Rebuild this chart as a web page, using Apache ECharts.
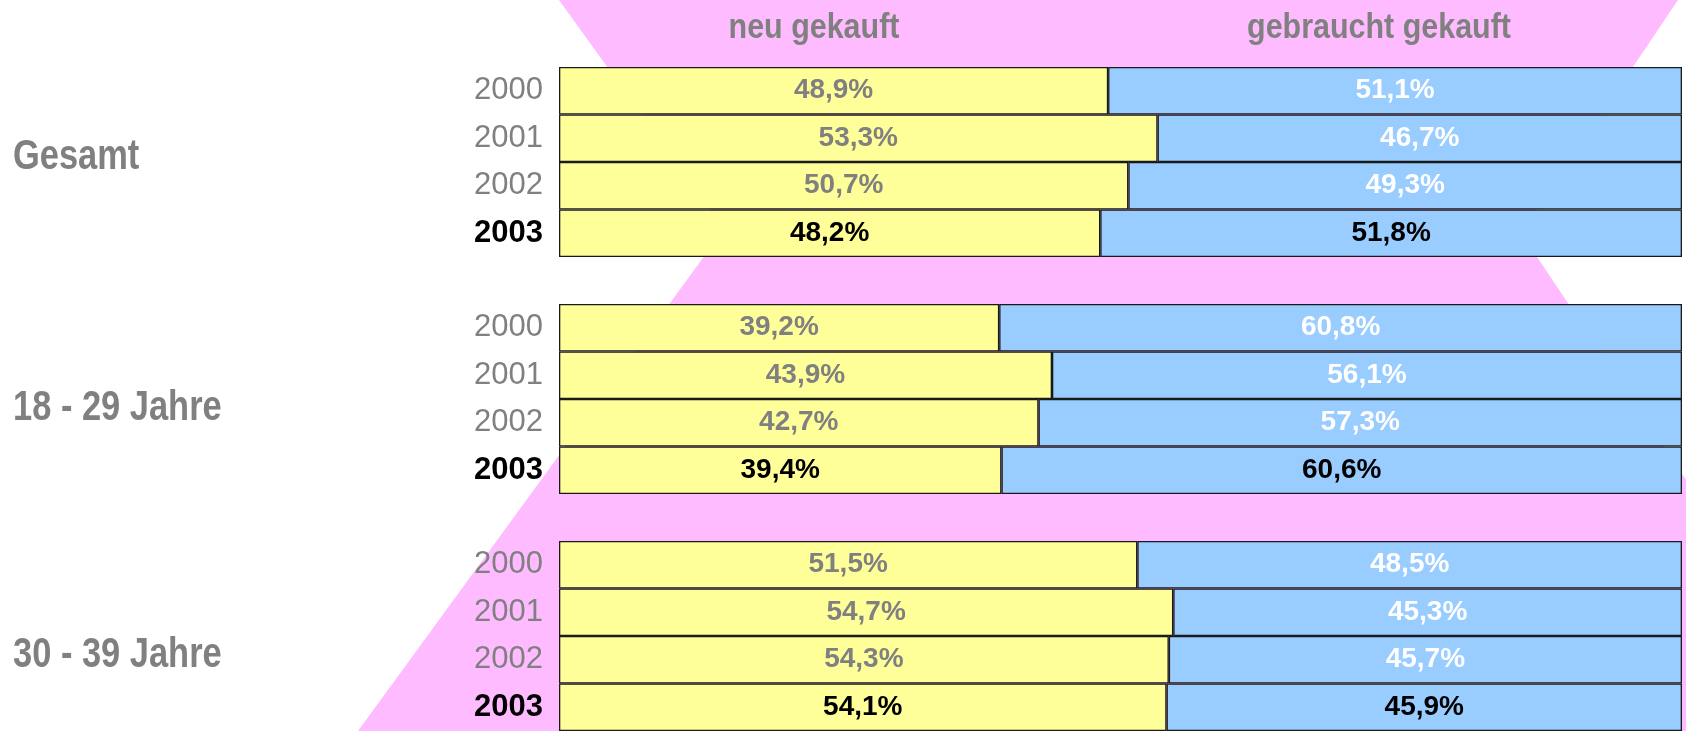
<!DOCTYPE html>
<html>
<head>
<meta charset="utf-8">
<script src="https://cdn.jsdelivr.net/npm/echarts@6/dist/echarts.min.js"></script>
<style>
  html, body { margin: 0; padding: 0; background: #fff; }
  #chart { width: 1686px; height: 731px; }
</style>
</head>
<body>
<div id="chart"></div>
<script>
// Jahre und Gruppen
const years = ['2000', '2001', '2002', '2003'];
const latestYear = '2003';
const groupNames = ['Gesamt', '18 - 29 Jahre', '30 - 39 Jahre'];
const seriesNames = ['neu gekauft', 'gebraucht gekauft'];

// Anteile in Prozent
const neuGesamt = [48.9, 53.3, 50.7, 48.2];
const gebrauchtGesamt = [51.1, 46.7, 49.3, 51.8];
const neu1829 = [39.2, 43.9, 42.7, 39.4];
const gebraucht1829 = [60.8, 56.1, 57.3, 60.6];
const neu3039 = [51.5, 54.7, 54.3, 54.1];
const gebraucht3039 = [48.5, 45.3, 45.7, 45.9];

const neuByGroup = [neuGesamt, neu1829, neu3039];
const gebrauchtByGroup = [gebrauchtGesamt, gebraucht1829, gebraucht3039];

const FONT = '"Liberation Sans", Arial, sans-serif';
const grey = '#808080';

const gridTops = [67, 304, 541];
const labelY = [157, 408, 655];

const grids = [], xAxes = [], yAxes = [], series = [];

const fmt = v => v.toFixed(1).replace('.', ',') + '%';

groupNames.forEach((g, i) => {
  grids.push({ left: 559, right: 4, top: gridTops[i], height: 190 });
  xAxes.push({ type: 'value', gridIndex: i, min: 0, max: 100, show: false });
  yAxes.push({
    type: 'category',
    gridIndex: i,
    inverse: true,
    data: years.map(y => y === latestYear
      ? { value: y, textStyle: { fontWeight: 'bold', color: '#000' } }
      : y),
    axisLine: { show: false },
    axisTick: { show: false },
    splitLine: { show: false },
    axisLabel: { margin: 16, fontSize: 31, color: grey, fontFamily: FONT }
  });

  const mk = (vals, color, labelColor, name) => ({
    name: name,
    type: 'bar',
    stack: 'g' + i,
    xAxisIndex: i,
    yAxisIndex: i,
    barWidth: '100%',
    itemStyle: { color: color, borderColor: '#1a1a1a', borderWidth: 1.3 },
    label: {
      show: true,
      position: 'inside',
      fontSize: 28,
      fontWeight: 'bold',
      fontFamily: FONT,
      color: labelColor,
      formatter: p => fmt(p.value)
    },
    data: vals.map((v, k) => years[k] === latestYear
      ? { value: v, label: { color: '#000' } }
      : v),
    animation: false
  });

  series.push(mk(neuByGroup[i], '#FFFF99', grey, seriesNames[0]));
  series.push(mk(gebrauchtByGroup[i], '#99CCFF', '#fff', seriesNames[1]));
});

const textEl = (text, x, y, size, align, sx) => ({
  type: 'text',
  x: x,
  y: y,
  scaleX: sx,
  z: 5,
  style: {
    text: text,
    font: 'bold ' + size + 'px ' + FONT,
    fill: grey,
    align: align,
    verticalAlign: 'middle',
    textAlign: align,
    textVerticalAlign: 'middle'
  }
});

const graphics = [
  {
    type: 'polygon',
    z: -10,
    shape: { points: [[559, 0], [1678, 0], [1521, 233], [1854, 731], [358, 731], [724, 229]] },
    style: { fill: '#FFBBFF' }
  },
  textEl(seriesNames[0], 814, 28, 35, 'center', 0.87),
  textEl(seriesNames[1], 1379, 28, 35, 'center', 0.87)
];
groupNames.forEach((g, i) => graphics.push(textEl(g, 13, labelY[i], 42, 'left', 0.82)));

const chart = echarts.init(document.getElementById('chart'));
chart.setOption({
  animation: false,
  backgroundColor: '#fff',
  grid: grids,
  xAxis: xAxes,
  yAxis: yAxes,
  graphic: graphics,
  series: series
});
</script>
</body>
</html>
